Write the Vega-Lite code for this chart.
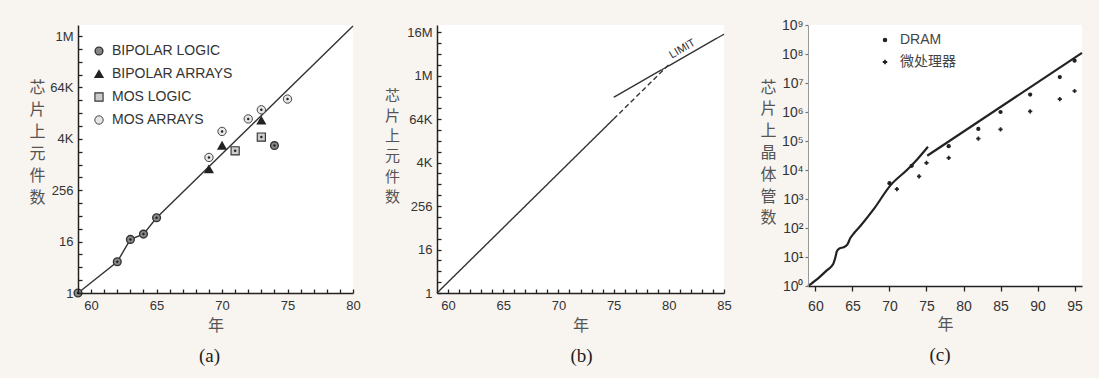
{
  "$schema": "https://vega.github.io/schema/vega-lite/v6.json",
  "background": "#f8f4f0",
  "padding": {"left": 28, "top": 18, "right": 12, "bottom": 12},
  "spacing": 84,
  "bounds": "flush",
  "resolve": {
    "scale": {"fill": "independent", "shape": "independent", "size": "independent", "strokeDash": "independent", "stroke": "independent", "strokeWidth": "independent"},
    "legend": {"fill": "independent", "shape": "independent", "size": "independent", "strokeDash": "independent", "stroke": "independent", "strokeWidth": "independent"}
  },
  "config": {
    "view": {"fill": "white", "stroke": null},
    "font": "Liberation Sans",
    "axis": {
      "labelFont": "Liberation Sans",
      "labelFontSize": 13,
      "labelColor": "#333",
      "labelFlush": false,
      "labelOverlap": false,
      "tickCount": 200,
      "ticks": true,
      "zindex": 2,
      "titleFont": "Noto Sans CJK SC",
      "titleFontSize": 16,
      "titleFontWeight": "normal",
      "titleColor": "#555",
      "domainColor": "#222",
      "domainWidth": 1.5,
      "tickColor": "#222",
      "tickWidth": 1.3,
      "tickOpacity": 1,
      "grid": false
    },
    "title": {"font": "Liberation Serif", "fontSize": 19, "fontWeight": "normal", "color": "#222", "orient": "bottom", "frame": "group", "anchor": "middle", "offset": 14}
  },
  "hconcat": [
    {
      "width": 275,
      "height": 268,
      "title": {"text": "(a)", "dx": -6},
      "layer": [
        {
          "data": {"values": [
            {"year": 59, "n": 1}, {"year": 62, "n": 5.4}, {"year": 63, "n": 18},
            {"year": 64, "n": 24}, {"year": 65, "n": 58}, {"year": 80, "n": 1800000}
          ]},
          "mark": {"type": "line", "color": "#333", "strokeWidth": 1.4},
          "encoding": {
            "x": {"field": "year", "type": "quantitative", "scale": {"domain": [59, 80], "nice": false, "zero": false},
              "axis": {"title": "年", "values": [60,61,62,63,64,65,66,67,68,69,70,71,72,73,74,75,76,77,78,79,80], "tickCount": 200, "format": "d",
                "labelExpr": "datum.value % 5 == 0 ? datum.label : ''", "labelOverlap": false, "zindex": 2,
                "ticks": true, "tickColor": "#222", "tickWidth": 1.3, "tickOpacity": 1, "tickSize": -4, "labelPadding": 10,
                "titleY": 32, "titleBaseline": "middle"}},
            "y": {"field": "n", "type": "quantitative", "scale": {"type": "log", "base": 2, "domain": [1, 1903000], "nice": false},
              "axis": {"title": ["芯","片","上","元","件","数"], "titleAngle": 0, "titleX": -41, "titleY": 54, "tickCount": 200, "zindex": 2,
                "titleAlign": "center", "titleBaseline": "top", "titleLineHeight": 22, "labelOverlap": false,
                "values": [1,2,4,8,16,32,64,128,256,512,1024,2048,4096,8192,16384,32768,65536,131072,262144,524288,1048576],
                "labelExpr": "datum.value == 1 ? '1' : datum.value == 16 ? '16' : datum.value == 256 ? '256' : datum.value == 4096 ? '4K' : datum.value == 65536 ? '64K' : datum.value == 1048576 ? '1M' : ''",
                "ticks": true, "tickColor": "#222", "tickWidth": 1.3, "tickOpacity": 1, "tickSize": -4, "labelPadding": 9}}
          }
        },
        {
          "data": {"values": [
            {"year": 59, "n": 1, "type": "BIPOLAR LOGIC"},
            {"year": 62, "n": 5.4, "type": "BIPOLAR LOGIC"},
            {"year": 63, "n": 18, "type": "BIPOLAR LOGIC"},
            {"year": 64, "n": 24, "type": "BIPOLAR LOGIC"},
            {"year": 65, "n": 58, "type": "BIPOLAR LOGIC"},
            {"year": 74, "n": 2850, "type": "BIPOLAR LOGIC"},
            {"year": 69, "n": 800, "type": "BIPOLAR ARRAYS"},
            {"year": 70, "n": 2850, "type": "BIPOLAR ARRAYS"},
            {"year": 73, "n": 11000, "type": "BIPOLAR ARRAYS"},
            {"year": 71, "n": 2150, "type": "MOS LOGIC"},
            {"year": 73, "n": 4500, "type": "MOS LOGIC"},
            {"year": 69, "n": 1500, "type": "MOS ARRAYS"},
            {"year": 70, "n": 6100, "type": "MOS ARRAYS"},
            {"year": 72, "n": 12000, "type": "MOS ARRAYS"},
            {"year": 73, "n": 19600, "type": "MOS ARRAYS"},
            {"year": 75, "n": 35000, "type": "MOS ARRAYS"}
          ]},
          "layer": [
            {
              "mark": {"type": "point", "filled": false, "opacity": 1},
              "encoding": {
                "x": {"field": "year", "type": "quantitative"},
                "y": {"field": "n", "type": "quantitative"},
                "fill": {"field": "type", "type": "nominal",
                  "scale": {"domain": ["BIPOLAR LOGIC", "BIPOLAR ARRAYS", "MOS LOGIC", "MOS ARRAYS"], "range": ["#888", "#222", "#ccc", "#e6e6e6"]},
                  "legend": {"orient": "none", "legendX": 14, "legendY": 19, "title": null, "labelFontSize": 14, "labelColor": "#333", "rowPadding": 9, "labelOffset": 6}},
                "stroke": {"field": "type", "type": "nominal",
                  "scale": {"domain": ["BIPOLAR LOGIC", "BIPOLAR ARRAYS", "MOS LOGIC", "MOS ARRAYS"], "range": ["#333", "#222", "#333", "#444"]},
                  "legend": {"orient": "none", "legendX": 14, "legendY": 19, "title": null, "labelFontSize": 14, "labelColor": "#333", "rowPadding": 9, "labelOffset": 6}},
                "strokeWidth": {"field": "type", "type": "nominal",
                  "scale": {"domain": ["BIPOLAR LOGIC", "BIPOLAR ARRAYS", "MOS LOGIC", "MOS ARRAYS"], "range": [1.4, 1, 1.4, 2.2]},
                  "legend": {"orient": "none", "legendX": 14, "legendY": 19, "title": null, "labelFontSize": 14, "labelColor": "#333", "rowPadding": 9, "labelOffset": 6}},
                "shape": {"field": "type", "type": "nominal",
                  "scale": {"domain": ["BIPOLAR LOGIC", "BIPOLAR ARRAYS", "MOS LOGIC", "MOS ARRAYS"], "range": ["circle", "triangle-up", "square", "circle"]},
                  "legend": {"orient": "none", "legendX": 14, "legendY": 19, "title": null, "labelFontSize": 14, "labelColor": "#333", "rowPadding": 9, "labelOffset": 6}},
                "size": {"field": "type", "type": "nominal",
                  "scale": {"domain": ["BIPOLAR LOGIC", "BIPOLAR ARRAYS", "MOS LOGIC", "MOS ARRAYS"], "range": [60, 70, 75, 130]},
                  "legend": {"orient": "none", "legendX": 14, "legendY": 19, "title": null, "labelFontSize": 14, "labelColor": "#333", "rowPadding": 9, "labelOffset": 6}}
              }
            },
            {
              "transform": [{"filter": "datum.type != 'BIPOLAR ARRAYS'"}],
              "mark": {"type": "point", "filled": true, "color": "#222", "size": 6, "opacity": 1},
              "encoding": {
                "x": {"field": "year", "type": "quantitative"},
                "y": {"field": "n", "type": "quantitative"}
              }
            }
          ]
        }
      ]
    },
    {
      "width": 287,
      "height": 268,
      "title": {"text": "(b)", "dx": 1},
      "layer": [
        {
          "data": {"values": [
            {"year": 59, "n": 1, "seg": "solid"}, {"year": 75, "n": 65536, "seg": "solid"},
            {"year": 75, "n": 65536, "seg": "dashed"}, {"year": 80, "n": 2097152, "seg": "dashed"},
            {"year": 75, "n": 262144, "seg": "limit"}, {"year": 85, "n": 14600000, "seg": "limit"}
          ]},
          "mark": {"type": "line", "color": "#333", "strokeWidth": 1.4},
          "encoding": {
            "x": {"field": "year", "type": "quantitative", "scale": {"domain": [59, 85], "nice": false, "zero": false},
              "axis": {"title": "年", "values": [60,61,62,63,64,65,66,67,68,69,70,71,72,73,74,75,76,77,78,79,80,81,82,83,84,85], "tickCount": 200, "format": "d",
                "labelExpr": "datum.value % 5 == 0 ? datum.label : ''", "labelOverlap": false, "zindex": 2,
                "ticks": true, "tickColor": "#222", "tickWidth": 1.3, "tickOpacity": 1, "tickSize": -4,
                "labelPadding": 10, "titleY": 32, "titleBaseline": "middle"}},
            "y": {"field": "n", "type": "quantitative", "scale": {"type": "log", "base": 2, "domain": [1, 26250000], "nice": false},
              "axis": {"title": ["芯","片","上","元","件","数"], "titleAngle": 0, "titleX": -45, "titleY": 63, "tickCount": 200, "zindex": 2,
                "titleAlign": "center", "titleBaseline": "top", "titleLineHeight": 20.3, "titleFontSize": 15, "labelOverlap": false,
                "values": [1,2,4,8,16,32,64,128,256,512,1024,2048,4096,8192,16384,32768,65536,131072,262144,524288,1048576,2097152,4194304,8388608,16777216],
                "labelExpr": "datum.value == 1 ? '1' : datum.value == 16 ? '16' : datum.value == 256 ? '256' : datum.value == 4096 ? '4K' : datum.value == 65536 ? '64K' : datum.value == 1048576 ? '1M' : datum.value == 16777216 ? '16M' : ''",
                "ticks": true, "tickColor": "#222", "tickWidth": 1.3, "tickOpacity": 1, "tickSize": -4, "labelPadding": 9}},
            "detail": {"field": "seg", "type": "nominal"},
            "strokeDash": {"field": "seg", "type": "nominal",
              "scale": {"domain": ["solid", "dashed", "limit"], "range": [[1, 0], [5, 3], [1, 0]]}, "legend": null}
          }
        },
        {
          "data": {"values": [{"year": 81.6, "n": 3650000, "label": "LIMIT"}]},
          "mark": {"type": "text", "angle": 330, "dy": -8, "fontSize": 11, "color": "#333", "font": "Liberation Sans"},
          "encoding": {
            "x": {"field": "year", "type": "quantitative"},
            "y": {"field": "n", "type": "quantitative"},
            "text": {"field": "label"}
          }
        }
      ]
    },
    {
      "width": 274,
      "height": 261,
      "title": {"text": "(c)", "dx": -5, "offset": 14},
      "layer": [
        {
          "data": {"values": [
            {"year": 59, "n": 1, "seg": "1"}, {"year": 60.2, "n": 1.7, "seg": "1"}, {"year": 61.5, "n": 3.4, "seg": "1"},
            {"year": 62.4, "n": 5.7, "seg": "1"}, {"year": 62.7, "n": 9.8, "seg": "1"}, {"year": 62.9, "n": 15.7, "seg": "1"},
            {"year": 63.3, "n": 20, "seg": "1"}, {"year": 63.8, "n": 21.6, "seg": "1"}, {"year": 64.3, "n": 26.5, "seg": "1"},
            {"year": 64.7, "n": 44, "seg": "1"}, {"year": 65.2, "n": 66, "seg": "1"}, {"year": 66.1, "n": 120, "seg": "1"},
            {"year": 67.9, "n": 455, "seg": "1"}, {"year": 70.1, "n": 2900, "seg": "1"}, {"year": 72.5, "n": 10800, "seg": "1"},
            {"year": 73.8, "n": 24000, "seg": "1"}, {"year": 75.2, "n": 63000, "seg": "1"},
            {"year": 75.1, "n": 31000, "seg": "2"}, {"year": 96, "n": 110000000, "seg": "2"}
          ]},
          "mark": {"type": "line", "color": "#222", "strokeWidth": 2.2, "interpolate": "monotone"},
          "encoding": {
            "x": {"field": "year", "type": "quantitative", "scale": {"domain": [59, 96], "nice": false, "zero": false},
              "axis": {"title": "年", "values": [60, 65, 70, 75, 80, 85, 90, 95], "tickCount": 200, "format": "d", "zindex": 2,
                "ticks": true, "tickColor": "#222", "tickWidth": 1.3, "tickOpacity": 1, "tickSize": 5, "labelPadding": 8, "labelOverlap": false,
                "titleY": 38, "titleBaseline": "middle", "labelFontSize": 14}},
            "y": {"field": "n", "type": "quantitative", "scale": {"type": "log", "domain": [1, 1000000000], "nice": false},
              "axis": {"title": ["芯","片","上","晶","体","管","数"], "titleAngle": 0, "titleX": -40, "titleY": 54, "tickCount": 200, "zindex": 2,
                "titleAlign": "center", "titleBaseline": "top", "titleLineHeight": 21.8, "labelOverlap": false,
                "values": [1, 10, 100, 1000, 10000, 100000, 1000000, 10000000, 100000000, 1000000000],
                "labelExpr": "'10' + ['⁰','¹','²','³','⁴','⁵','⁶','⁷','⁸','⁹'][round(log(datum.value)/LN10)]",
                "ticks": true, "tickColor": "#777", "tickWidth": 1.2, "tickOpacity": 1,
                "tickSize": 3, "labelPadding": 2, "domainColor": "#999", "domainWidth": 1, "labelFontSize": 14}},
            "detail": {"field": "seg", "type": "nominal"}
          }
        },
        {
          "data": {"values": [
            {"year": 70, "n": 3500, "kind": "DRAM"}, {"year": 73, "n": 14000, "kind": "DRAM"},
            {"year": 78, "n": 66000, "kind": "DRAM"}, {"year": 82, "n": 260000, "kind": "DRAM"},
            {"year": 85, "n": 1000000, "kind": "DRAM"}, {"year": 89, "n": 4000000, "kind": "DRAM"},
            {"year": 93, "n": 16000000, "kind": "DRAM"}, {"year": 95, "n": 59000000, "kind": "DRAM"},
            {"year": 71, "n": 2200, "kind": "微处理器"}, {"year": 74, "n": 6000, "kind": "微处理器"},
            {"year": 75, "n": 17500, "kind": "微处理器"}, {"year": 78, "n": 26000, "kind": "微处理器"},
            {"year": 82, "n": 120000, "kind": "微处理器"}, {"year": 85, "n": 250000, "kind": "微处理器"},
            {"year": 89, "n": 1050000, "kind": "微处理器"}, {"year": 93, "n": 2800000, "kind": "微处理器"},
            {"year": 95, "n": 5300000, "kind": "微处理器"}
          ]},
          "mark": {"type": "point", "filled": true, "color": "#222", "opacity": 1, "size": 18},
          "encoding": {
            "x": {"field": "year", "type": "quantitative"},
            "y": {"field": "n", "type": "quantitative"},
            "shape": {"field": "kind", "type": "nominal",
              "scale": {"domain": ["DRAM", "微处理器"], "range": ["circle", "cross"]},
              "legend": {"orient": "none", "legendX": 70, "legendY": 8, "title": null, "labelFontSize": 14,
                "labelFont": "Liberation Sans, Noto Sans CJK SC", "labelColor": "#444", "rowPadding": 8, "labelOffset": 8,
                "symbolFillColor": "#222", "symbolStrokeWidth": 0, "symbolSize": 20}}
          }
        }
      ]
    }
  ]
}
